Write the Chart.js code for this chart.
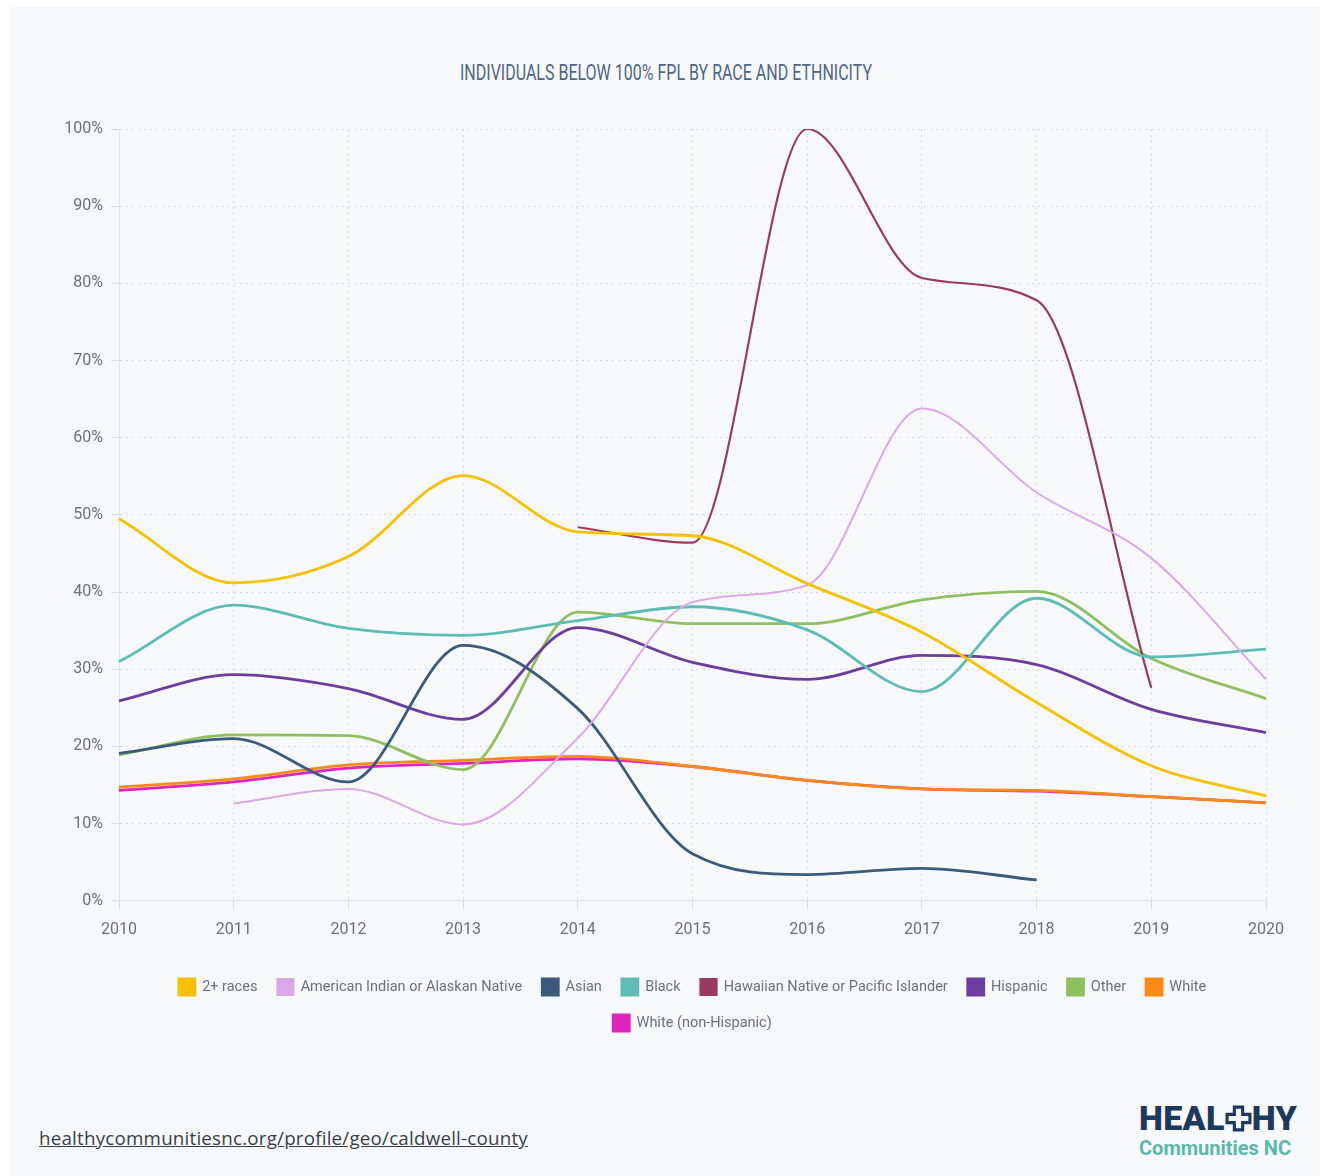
<!DOCTYPE html>
<html>
<head>
<meta charset="utf-8">
<script src="https://cdn.jsdelivr.net/npm/chart.js@4.4.1/dist/chart.umd.min.js"></script>
<style>
  html, body { margin:0; padding:0; background:#ffffff; }
  body { width:1324px; height:1176px; position:relative; overflow:hidden; }
  #card { position:absolute; left:11px; top:7px; width:1309px; height:1169px; background:#f6f8fa; }
  #title { position:absolute; left:0; top:60px; white-space:nowrap;
           font-family:"Roboto",sans-serif; font-weight:400;
           font-size:22px; color:#4f6785; transform-origin:0 0; }
  #wrap { position:absolute; left:11px; top:7px; width:1309px; height:1060px; }
  #link { position:absolute; left:39px; top:1125px; font-family:"Open Sans",sans-serif; font-size:18.8px;
          color:#3a3f47; text-decoration:underline; letter-spacing:0.2px; white-space:nowrap; }
  #logo1 { position:absolute; left:1139px; top:1099px; font-family:"Roboto",sans-serif; font-weight:900;
           font-size:34px; color:#1d3a5e; letter-spacing:0.3px; line-height:38px; white-space:nowrap; }
  #logo2 { position:absolute; left:1139px; top:1136px; font-family:"Roboto",sans-serif; font-weight:700;
           font-size:20px; color:#5bb8ab; line-height:24px; white-space:nowrap; }
</style>
</head>
<body>
<div id="card"></div>
<div id="title">INDIVIDUALS BELOW 100% FPL BY RACE AND ETHNICITY</div>
<div id="wrap"><canvas id="c" width="1309" height="1060"></canvas></div>
<div id="link">healthycommunitiesnc.org/profile/geo/caldwell-county</div>
<div id="logo1">HEAL<svg width="27" height="27" viewBox="0 0 26 26" style="vertical-align:-2px"><path d="M9 2h8v7h7v8h-7v7h-8v-7h-7v-8h7z" fill="none" stroke="#1d3a5e" stroke-width="3"/></svg>HY</div>
<div id="logo2">Communities NC</div>
<script>
const years = ["2010","2011","2012","2013","2014","2015","2016","2017","2018","2019","2020"];
const twoPlus   = [49.5, 41.2, 44.6, 55.1, 47.8, 47.3, 41.1, 34.8, 25.7, 17.5, 13.6];
const amIndian  = [null, 12.6, 14.5, 9.9, 21.1, 38.7, 40.9, 63.8, 52.9, 44.4, 28.7];
const asian     = [19.1, 21.0, 15.4, 33.1, 24.9, 6.1, 3.4, 4.2, 2.7, null, null];
const black     = [31.0, 38.3, 35.3, 34.4, 36.3, 38.1, 35.1, 27.1, 39.2, 31.6, 32.6];
const hawaiian  = [null, null, null, null, 48.4, 46.4, 100, 80.7, 77.8, 27.6, null];
const hispanic  = [25.9, 29.3, 27.5, 23.5, 35.4, 30.9, 28.7, 31.8, 30.6, 24.8, 21.8];
const other     = [18.9, 21.5, 21.4, 17.0, 37.4, 35.9, 35.9, 39.0, 40.1, 31.4, 26.2];
const white     = [14.7, 15.8, 17.6, 18.2, 18.7, 17.4, 15.6, 14.5, 14.3, 13.5, 12.7];
const whiteNH   = [14.3, 15.4, 17.2, 17.8, 18.4, 17.4, 15.6, 14.5, 14.2, 13.5, 12.7];

const seriesNames = ["2+ races","American Indian or Alaskan Native","Asian","Black","Hawaiian Native or Pacific Islander","Hispanic","Other","White","White (non-Hispanic)"];
const seriesData = [twoPlus, amIndian, asian, black, hawaiian, hispanic, other, white, whiteNH];
const colors = ["#f5c100","#d9a9e8","#3b5b7d","#5dbdb5","#9a3b5d","#6b3e9e","#8fc05f","#fb8a14","#e323bd"];
const widths = [2.8,2,2.8,2.8,2.2,2.8,2.8,2.8,2.8];

// condense the title to match the narrow face of the original
(function(){
  const t = document.getElementById('title');
  const w = t.getBoundingClientRect().width;
  const target = 412;
  const s = target / w;
  t.style.transform = 'scaleX(' + s + ')';
  t.style.left = (666 - target/2) + 'px';
})();

const tickFont = 'Roboto, sans-serif';

new Chart(document.getElementById('c'), {
  type: 'line',
  data: {
    labels: years,
    datasets: seriesNames.map((n,i) => ({
      label: n, data: seriesData[i], borderColor: colors[i], backgroundColor: colors[i],
      borderWidth: widths[i], pointRadius: 0, pointHoverRadius: 0,
      cubicInterpolationMode: 'monotone', spanGaps: false, fill: false
    }))
  },
  options: {
    responsive: false, animation: false,
    layout: { padding: { left: 20, right: 54, top: 122, bottom: 26 } },
    plugins: {
      title: { display: false },
      tooltip: { enabled: false },
      legend: {
        position: 'bottom',
        labels: { boxWidth: 16, boxHeight: 16, padding: 20, color: '#6a727c',
                  font: { family: tickFont, size: 14.5 } }
      }
    },
    scales: {
      x: {
        afterFit: s => { s.height += 7; },
        grid: { color: '#d5dbe2', lineWidth: 1, tickLength: 8 },
        border: { display: true, color: '#dfe4ea', dash: [2,4] },
        ticks: { color: '#6a727c', padding: 12, font: { family: tickFont, size: 16 }, maxRotation: 0 }
      },
      y: {
        min: 0, max: 100,
        afterFit: s => { s.width = 88; },
        grid: { color: '#d5dbe2', lineWidth: 1, tickLength: 8 },
        border: { display: true, color: '#dfe4ea', dash: [2,4] },
        ticks: { stepSize: 10, color: '#6a727c', padding: 8, font: { family: tickFont, size: 16 },
                 callback: v => v + '%' }
      }
    }
  },
  plugins: [{
    id: 'centerLegend',
    afterLayout(chart) {
      const lg = chart.legend, ca = chart.chartArea;
      if (!lg) return;
      const d = (ca.left + ca.right) / 2 - (lg.left + lg.right) / 2;
      lg.left += d; lg.right += d;
    }
  }]
});
</script>
</body>
</html>
